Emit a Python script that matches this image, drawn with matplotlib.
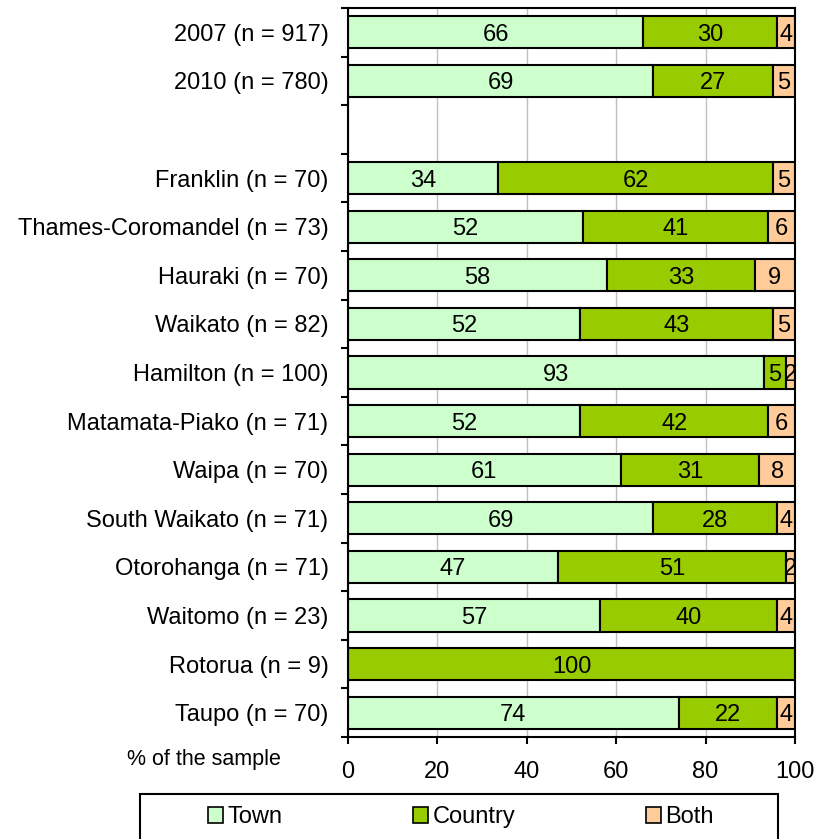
import numpy as np
import matplotlib
matplotlib.use('agg')
import matplotlib.pyplot as plt
from matplotlib.patches import Patch, Rectangle

plt.rcParams['font.family'] = ['Liberation Sans', 'DejaVu Sans']

# one entry per row, top to bottom ('' = empty spacer row)
labels = ['2007 (n = 917)', '2010 (n = 780)', '',
          'Franklin (n = 70)', 'Thames-Coromandel (n = 73)', 'Hauraki (n = 70)',
          'Waikato (n = 82)', 'Hamilton (n = 100)', 'Matamata-Piako (n = 71)',
          'Waipa (n = 70)', 'South Waikato (n = 71)', 'Otorohanga (n = 71)',
          'Waitomo (n = 23)', 'Rotorua (n = 9)', 'Taupo (n = 70)']
town    = [66, 69, 0, 34, 52, 58, 52, 93, 52, 61, 69, 47, 57, 0, 74]
country = [30, 27, 0, 62, 41, 33, 43, 5, 42, 31, 28, 51, 40, 100, 22]
both    = [4, 5, 0, 5, 6, 9, 5, 2, 6, 8, 4, 2, 4, 0, 4]

series = [('Town', town, '#CCFFCC'),
          ('Country', country, '#99CC00'),
          ('Both', both, '#FFCC99')]

vals = np.array([town, country, both], dtype=float)
tot = vals.sum(axis=0)
tot[tot == 0] = 1
widths = vals / tot * 100  # stacked to 100 %

fs = 17
W, H = 824, 839
fig = plt.figure(figsize=(W/100, H/100), dpi=100)
ax = fig.add_axes([348/W, 1-737/H, 447/W, 729/H])

n = len(labels)
y = np.arange(n)
left = np.zeros(n)
for i, (name, raw, col) in enumerate(series):
    w = widths[i]
    mask = np.array(raw) > 0
    ax.barh(y[mask], w[mask], left=left[mask], height=0.66, color=col,
            edgecolor='black', linewidth=1.5, zorder=2)
    for yy, l, ww, v in zip(y[mask], left[mask], w[mask], np.array(raw)[mask]):
        ax.text(l + ww/2, yy + 0.05, str(v), ha='center', va='center',
                fontsize=fs, zorder=3, clip_on=True)
    left = left + w

ax.set_xlim(0, 100)
ax.set_ylim(n - 0.5, -0.5)
ax.set_xticks([0, 20, 40, 60, 80, 100])
ax.tick_params(axis='x', labelsize=fs, length=5, width=1.5, pad=12, direction='out')
ax.set_yticks(y)
ax.set_yticklabels(labels, fontsize=fs)
ax.tick_params(axis='y', length=0, pad=14)
ax.set_yticks(np.arange(n + 1) - 0.5, minor=True)
ax.tick_params(axis='y', which='minor', length=5, width=1.5)
ax.grid(axis='x', color='#C0C0C0', linewidth=1, zorder=0)
ax.set_axisbelow(True)
for s in ax.spines.values():
    s.set_linewidth(1.5)

fig.text(204/W, 1-760/H, '% of the sample', ha='center', va='center', fontsize=15.5)

# legend: box drawn separately, entries centred inside it
fig.patches.append(Rectangle((140/W, 1-850/H), 638/W, 56/H, transform=fig.transFigure,
                             facecolor='white', edgecolor='black', linewidth=1.5))
handles = [Patch(facecolor=c, edgecolor='black', linewidth=1.2, label=nm)
           for nm, _, c in series]
fig.legend(handles=handles, loc='center', ncol=3,
           bbox_to_anchor=(461/W, 1-817/H),
           fontsize=fs, frameon=False,
           handlelength=0.65, handleheight=0.65, handletextpad=0.2,
           columnspacing=5.5, borderaxespad=0)

plt.savefig('out.png', dpi=100)
